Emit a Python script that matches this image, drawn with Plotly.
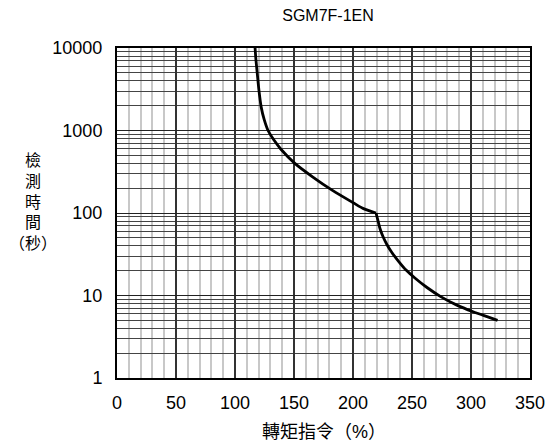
import plotly.graph_objects as go

# Upper branch (before the break) and lower branch (after the break)
torque_upper = [117.0, 117.8, 118.9, 120.3, 122.2, 124.7, 128.0, 133.0, 139.1, 150.7, 166.0,
                182.6, 200.6, 208.9, 219.5]
seconds_upper = [10000, 7060, 4870, 3057, 1920, 1362, 1000, 767, 589, 400, 273,
                 188, 132, 113, 100]

torque_lower = [219.5, 221.1, 222.8, 225.3, 228.6, 232.8, 238.6, 245.2, 252.7, 262.7, 274.3, 287.6, 301.8, 314.2, 322.5]
seconds_lower = [100, 81.6, 65.3, 52.2, 41.8, 33.4, 26.0, 20.2, 16.2, 12.5, 9.7, 7.7, 6.35, 5.5, 5.0]

x_ticks = [0, 50, 100, 150, 200, 250, 300, 350]
y_ticks = [1, 10, 100, 1000, 10000]
y_ticktext = ["1", "10", "100", "1000", "10000"]

title_text = "SGM7F-1EN"
x_title = "轉矩指令（%）"
y_title = "檢<br>測<br>時<br>間<br>（秒）"

font_family = "Liberation Sans, Arial, Noto Sans CJK TC, sans-serif"

L, R, T, B = 117, 539, 47.5, 378
W, H = 557, 446

fig = go.Figure()
for xs, ys in ((torque_upper, seconds_upper), (torque_lower, seconds_lower)):
    fig.add_trace(go.Scatter(x=xs, y=ys, mode="lines",
                             line=dict(color="black", width=2.8, shape="spline", smoothing=0.8),
                             showlegend=False))

fig.update_layout(
    width=W, height=H,
    margin=dict(l=L, r=W - R, t=T, b=H - B),
    plot_bgcolor="white", paper_bgcolor="white",
    font=dict(family=font_family, size=18, color="black"),
    title=dict(text=title_text, x=(L + R) / 2 / W, xanchor="center", y=1 - 15 / H, yanchor="middle",
               font=dict(size=16, family=font_family, color="black")),
)

fig.update_xaxes(
    range=[0, 350], tickvals=x_ticks, ticks="", ticklen=0,
    showgrid=True, gridcolor="#333333", gridwidth=1.5,
    minor=dict(dtick=10, showgrid=True, gridcolor="#c8c8c8", gridwidth=1.5, ticks=""),
    showline=True, linecolor="black", linewidth=2, mirror=True,
    zeroline=False, tickfont=dict(size=18), ticklabelstandoff=7,
)
fig.update_yaxes(
    type="log", range=[0, 4], tickvals=y_ticks, ticktext=y_ticktext, ticks="",
    showgrid=True, gridcolor="#222222", gridwidth=1,
    minor=dict(dtick="D1", showgrid=True, gridcolor="#444444", gridwidth=1, ticks=""),
    showline=True, linecolor="black", linewidth=2, mirror=True,
    zeroline=False, tickfont=dict(size=18), ticklabelstandoff=9,
)

pw, ph = R - L, B - T
fig.add_annotation(text=y_title, xref="paper", yref="paper",
                   x=(31.5 - L) / pw, y=(B - 202) / ph,
                   xanchor="center", yanchor="middle", showarrow=False,
                   font=dict(size=16, family=font_family), align="center")
fig.add_annotation(text=x_title, xref="paper", yref="paper",
                   x=0.5 + (328 - (L + R) / 2) / pw, y=(B - 432) / ph,
                   xanchor="center", yanchor="middle", showarrow=False,
                   font=dict(size=18, family=font_family))

fig.write_html("out.html")
